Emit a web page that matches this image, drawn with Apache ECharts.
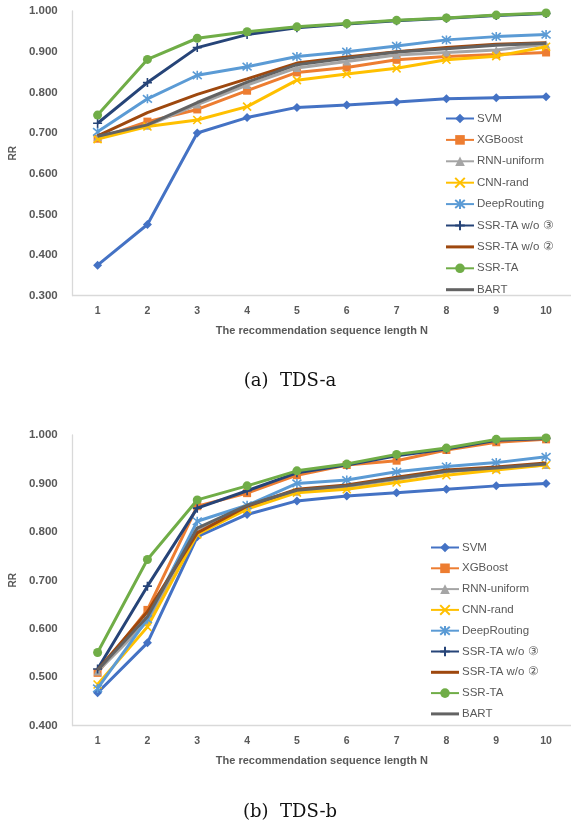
<!DOCTYPE html>
<html>
<head>
<meta charset="utf-8">
<script src="https://cdn.jsdelivr.net/npm/echarts@6/dist/echarts.min.js"></script>
<style>
html,body{margin:0;padding:0;background:#fff;}
#chart{width:571px;height:822px;}
</style>
</head>
<body>
<div id="chart"></div>
<script>
const categories = ['1','2','3','4','5','6','7','8','9','10'];
const seriesNames = ['SVM','XGBoost','RNN-uniform','CNN-rand','DeepRouting','SSR-TA w/o ③','SSR-TA w/o ②','SSR-TA','BART'];

// (a) TDS-a
const a_SVM      = [0.375,0.475,0.700,0.738,0.763,0.769,0.776,0.784,0.787,0.789];
const a_XGBoost  = [0.686,0.728,0.758,0.804,0.849,0.861,0.880,0.888,0.893,0.898];
const a_RNN      = [0.690,0.718,0.770,0.818,0.860,0.876,0.892,0.898,0.904,0.918];
const a_CNN      = [0.685,0.716,0.732,0.765,0.830,0.845,0.859,0.880,0.889,0.912];
const a_Deep     = [0.703,0.784,0.842,0.863,0.888,0.900,0.914,0.929,0.937,0.942];
const a_wo3      = [0.724,0.824,0.910,0.942,0.959,0.968,0.976,0.982,0.989,0.994];
const a_wo2      = [0.693,0.750,0.795,0.833,0.872,0.887,0.900,0.910,0.918,0.922];
const a_SSRTA    = [0.744,0.881,0.933,0.949,0.961,0.969,0.977,0.983,0.990,0.995];
const a_BART     = [0.692,0.720,0.775,0.825,0.868,0.884,0.899,0.907,0.916,0.921];

// (b) TDS-b
const b_SVM      = [0.468,0.571,0.790,0.836,0.864,0.874,0.881,0.888,0.895,0.900];
const b_XGBoost  = [0.509,0.639,0.853,0.880,0.917,0.938,0.947,0.969,0.985,0.991];
const b_RNN      = [0.512,0.615,0.805,0.852,0.883,0.893,0.908,0.924,0.931,0.938];
const b_CNN      = [0.485,0.604,0.795,0.847,0.881,0.888,0.902,0.917,0.928,0.938];
const b_Deep     = [0.477,0.620,0.822,0.855,0.900,0.907,0.924,0.935,0.943,0.955];
const b_wo3      = [0.517,0.688,0.849,0.885,0.922,0.938,0.957,0.971,0.989,0.993];
const b_wo2      = [0.515,0.635,0.798,0.853,0.888,0.897,0.913,0.928,0.934,0.942];
const b_SSRTA    = [0.551,0.743,0.866,0.895,0.926,0.940,0.960,0.973,0.991,0.994];
const b_BART     = [0.515,0.625,0.808,0.855,0.886,0.895,0.910,0.925,0.932,0.940];

const yTicksA = [0.3, 1.0];
const yTicksB = [0.4, 1.0];

const colors = ['#4472C4','#ED7D31','#A5A5A5','#FFC000','#5B9BD5','#264478','#9E480E','#70AD47','#636363'];
const symbols = ['diamond','rect','triangle','path://M0,0L10,10M10,0L0,10','path://M0,0L10,10M10,0L0,10M5,-1L5,11','path://M5,0L5,10M0,5L10,5','none','circle','none'];
const symbolSizes = [9,8,8,8,9,9,0,9,0];

const dataA = [a_SVM,a_XGBoost,a_RNN,a_CNN,a_Deep,a_wo3,a_wo2,a_SSRTA,a_BART];
const dataB = [b_SVM,b_XGBoost,b_RNN,b_CNN,b_Deep,b_wo3,b_wo2,b_SSRTA,b_BART];

const labelColor = '#595959';
const axisColor = '#d9d9d9';
const sansFont = '"Liberation Sans", Arial, sans-serif';

function mkSeries(data, idx){
  return data.map((d,i)=>{
    const s = {
      name: seriesNames[i],
      type: 'line',
      xAxisIndex: idx, yAxisIndex: idx,
      data: d,
      lineStyle: {color: colors[i], width: 3},
      itemStyle: {color: colors[i], borderColor: colors[i], borderWidth: symbols[i].startsWith('path') ? 1.6 : 0},
      emphasis: {disabled: true},
      animation: false,
      z: 2 + i
    };
    if (symbols[i] === 'none') { s.symbol = 'none'; s.showSymbol = false; }
    else { s.symbol = symbols[i]; s.symbolSize = symbolSizes[i]; s.showSymbol = true; }
    return s;
  });
}

const legendData = seriesNames.map((n,i)=> symbols[i] === 'none'
  ? {name:n, icon:'path://M0,0L28,0L28,3L0,3Z', itemStyle:{color:colors[i]}}
  : {name:n});

function mkX(idx){
  return {
    type:'category', gridIndex: idx, data: categories, boundaryGap: true,
    axisTick:{show:false},
    axisLine:{lineStyle:{color:axisColor, width:1.3}},
    axisLabel:{color:labelColor, fontFamily:sansFont, fontWeight:'bold', fontSize:10.5, margin:10},
    name:'The recommendation sequence length N', nameLocation:'middle', nameGap:30,
    nameTextStyle:{color:labelColor, fontFamily:sansFont, fontWeight:'bold', fontSize:11}
  };
}
function mkY(idx, ticks){
  return {
    type:'value', gridIndex: idx, min: ticks[0], max: ticks[1], interval: 0.1,
    axisLine:{show:true, lineStyle:{color:axisColor, width:1.3}},
    axisTick:{show:false},
    splitLine:{show:false},
    axisLabel:{color:labelColor, fontFamily:sansFont, fontWeight:'bold', fontSize:11.5, margin:15,
      formatter:v=>v.toFixed(3)},
    name:'RR', nameLocation:'middle', nameGap:52, nameRotate:90,
    nameTextStyle:{color:labelColor, fontFamily:sansFont, fontWeight:'bold', fontSize:10}
  };
}

const chart = echarts.init(document.getElementById('chart'), null, {renderer:'canvas'});
chart.setOption({
  backgroundColor:'#fff',
  animation:false,
  grid:[
    {left:67, width:510.5, top:11, height:284.7},
    {left:67, width:510.5, top:435, height:290.7}
  ],
  xAxis:[mkX(0), mkX(1)],
  yAxis:[mkY(0,yTicksA), mkY(1,yTicksB)],
  legend:[
    {orient:'vertical', left:445, top:112.5, padding:0, itemWidth:28, itemHeight:12, itemGap:9.4,
     data: legendData, textStyle:{color:labelColor, fontFamily:sansFont, fontSize:11.5, padding:[0,0,0,-2]}, selectedMode:false},
    {orient:'vertical', left:430, top:541.5, padding:0, itemWidth:28, itemHeight:12, itemGap:8.8,
     data: legendData, textStyle:{color:labelColor, fontFamily:sansFont, fontSize:11.5, padding:[0,0,0,-2]}, selectedMode:false}
  ],
  graphic:[
    {type:'text', x:290, y:372, style:{text:'(a)  TDS-a', font:'18px "DejaVu Serif", serif', fill:'#111', textAlign:'center'}},
    {type:'text', x:290, y:803, style:{text:'(b)  TDS-b', font:'18px "DejaVu Serif", serif', fill:'#111', textAlign:'center'}}
  ],
  series: mkSeries(dataA,0).concat(mkSeries(dataB,1))
});
</script>
</body>
</html>
